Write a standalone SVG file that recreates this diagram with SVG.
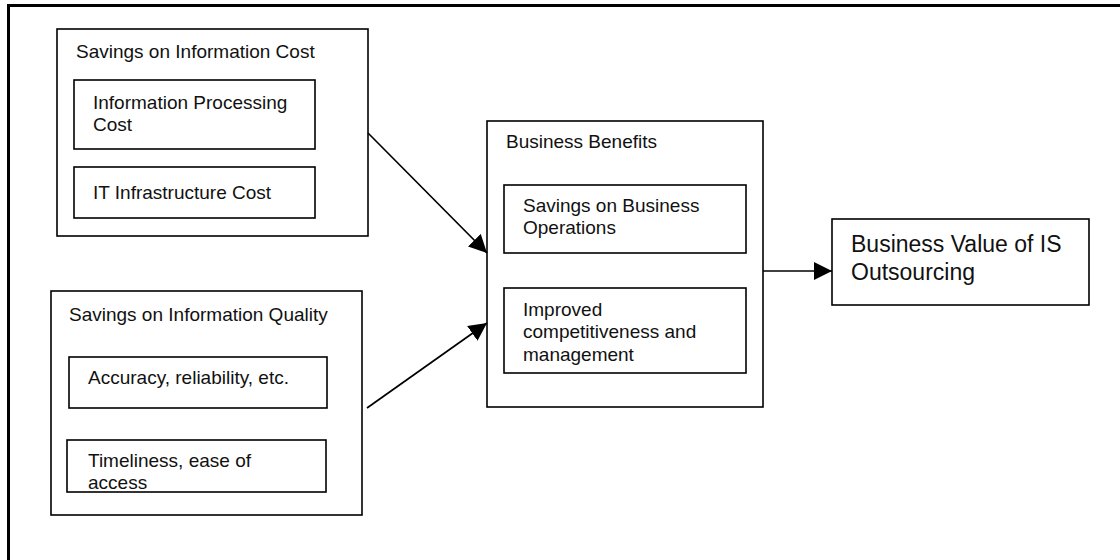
<svg xmlns="http://www.w3.org/2000/svg" width="1120" height="560" viewBox="0 0 1120 560">
<style>
.bx{fill:none;stroke:#000;stroke-width:1.6}
.t{font-family:"Liberation Sans",Arial,sans-serif;font-size:19px;fill:#111}
.tl{font-family:"Liberation Sans",Arial,sans-serif;font-size:23px;fill:#111}
.c{fill:none;stroke:#000;stroke-width:1.7}
</style>
<defs>
<marker id="ah" markerUnits="userSpaceOnUse" markerWidth="20" markerHeight="18" refX="18" refY="9" orient="auto">
<path d="M0,0 L18,9 L0,18 Z" fill="#000"/>
</marker>
</defs>
<rect width="1120" height="560" fill="#fff"/>
<g id="frame">
<path d="M8.5,560 V5.5 H1120" fill="none" stroke="#000" stroke-width="3"/>
</g>
<g id="cost">
<rect class="bx" x="57" y="29" width="311" height="207"/>
<text class="t" x="76" y="58">Savings on Information Cost</text>
<g id="processing">
<rect class="bx" x="74" y="80" width="241" height="69"/>
<text class="t" x="93" y="109">Information Processing</text>
<text class="t" x="93" y="131">Cost</text>
</g>
<g id="infrastructure">
<rect class="bx" x="74" y="167" width="241" height="51"/>
<text class="t" x="93" y="199">IT Infrastructure Cost</text>
</g>
</g>
<g id="quality">
<rect class="bx" x="51" y="291" width="311" height="224"/>
<text class="t" x="69" y="321">Savings on Information Quality</text>
<g id="accuracy">
<rect class="bx" x="69" y="357" width="258" height="51"/>
<text class="t" x="88" y="384">Accuracy, reliability, etc.</text>
</g>
<g id="timeliness">
<rect class="bx" x="67" y="440" width="259" height="52"/>
<text class="t" x="88" y="467">Timeliness, ease of</text>
<text class="t" x="88" y="489">access</text>
</g>
</g>
<g id="benefits">
<rect class="bx" x="487" y="121" width="276" height="286"/>
<text class="t" x="506" y="148">Business Benefits</text>
<g id="operations">
<rect class="bx" x="504" y="185" width="242" height="68"/>
<text class="t" x="523" y="212">Savings on Business</text>
<text class="t" x="523" y="234">Operations</text>
</g>
<g id="competitiveness">
<rect class="bx" x="504" y="288" width="242" height="85"/>
<text class="t" x="523" y="316">Improved</text>
<text class="t" x="523" y="338">competitiveness and</text>
<text class="t" x="523" y="361">management</text>
</g>
</g>
<g id="value">
<rect class="bx" x="832" y="219" width="257" height="86"/>
<text class="tl" x="851" y="252">Business Value of IS</text>
<text class="tl" x="851" y="280">Outsourcing</text>
</g>
<g id="connectors">
<line class="c" x1="368" y1="133" x2="487" y2="253" marker-end="url(#ah)"/>
<line class="c" x1="367" y1="408" x2="487" y2="323" marker-end="url(#ah)"/>
<line class="c" x1="763" y1="271" x2="832" y2="271" marker-end="url(#ah)"/>
</g>
</svg>
